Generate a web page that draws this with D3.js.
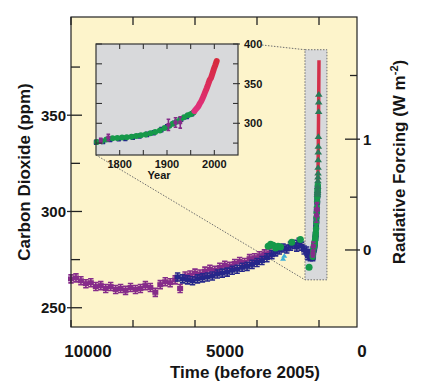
<!DOCTYPE html>
<html>
<head>
<meta charset="utf-8">
<script src="https://cdn.jsdelivr.net/npm/d3@7"></script>
<style>
  body { margin: 0; background: #fff; }
  svg text { font-family: "Liberation Sans", Arial, sans-serif; font-weight: bold; fill: #151515; }
</style>
</head>
<body>
<div id="vis"></div>
<script>
// frame and panel boxes
const FRAME_WIDTH = 423;
const FRAME_HEIGHT = 390;
const PLOT = {left: 71, right: 357, top: 17, bottom: 327};
const INSET = {left: 96, right: 238, top: 44, bottom: 155};

// ---- data: main panel (time before 2005, ppm) ----
const epicaPts = [[10000,265],[9800,265.5],[9600,264],[9400,262.5],[9200,263],[9000,261],
  [8800,261.5],[8600,260],[8400,261],[8200,259.5],[8000,260],[7800,259],[7600,260.5],
  [7400,259.5],[7200,260],[7000,261.5],[6800,260.5],[6600,258],[6400,262],[6200,263.5],
  [6000,263],[5800,264.5],[5600,260],[5400,266.5],[5200,267],[5000,268],[4800,267.5],
  [4600,269],[4400,270],[4200,269.5],[4000,271],[3800,272],[3600,271.5],[3400,273],
  [3200,274],[3000,273.5],[2800,275.5],[2600,276],[2400,277],[2200,278],[2000,278.5]];
const domePts = [[5700,266],[5500,265],[5300,264.5],[5100,264],[4900,265],[4700,265.5],
  [4500,266],[4300,266.5],[4100,267.5],[3900,268],[3700,268.5],[3500,269.5],[3300,270],
  [3100,271],[2900,271.5],[2700,272.5],[2500,273.5],[2300,274.5],[2100,276],[1900,277.5],
  [1750,279],[1600,280],[1450,281],[1300,280.5],[1150,282],[1000,283],[900,281.5],
  [800,284],[700,282],[600,280],[500,279.5],[450,277],[400,278],[350,276.5],[300,277.5]];
const taylorPts = [[2050,282],[1950,283],[1850,282.5],[1750,281],[1650,282],[1550,281.5],
  [1100,284],[750,285.5],[400,271]];
const cyanPts = [[1450,275.5],[1400,277]];
// firn / flask triangles near the present (year AD, ppm)
const flaskPts = [[1940,309],[1945,310],[1950,311],[1955,313],[1960,316],[1963,318],
  [1966,320],[1969,323],[1972,327],[1975,331],[1978,334],[1981,339],[1990,352],
  [1993,357],[1996,361]];

// ---- data: last 250 years (year AD, ppm) ----
const lawGreen = [[1752,276.5],[1762,277.5],[1772,279.5],[1785,281],[1795,281.5],[1805,282],
  [1815,282.5],[1825,283],[1835,284],[1845,285],[1855,286],[1865,287.5],[1875,289],
  [1885,291],[1895,294],[1905,297],[1912,299.5],[1920,302],[1928,305],[1936,307.5],
  [1944,310],[1950,311.5],[1956,313.5]];
const lawBlue = [[1750,276],[1765,277],[1780,279.5],[1798,280.5],[1812,281],[1828,282.5],
  [1842,284],[1858,286],[1872,288],[1888,292],[1900,295.5],[1915,300],[1930,305],
  [1942,308.5],[1953,312]];
const siplePurple = [[1760,278,3],[1776,282,4],[1903,298,7],[1918,301,6],[1928,301,7]];
const maunaLoa = [[1958,315.3],[1960,316.9],[1963,319],[1966,321.1],[1969,324.6],[1972,327.5],
  [1975,331.1],[1978,335.4],[1981,340.1],[1984,344.4],[1987,349.2],[1990,354.4],
  [1993,357.1],[1996,362.6],[1999,368.4],[2002,373.2],[2005,378.5]];

// ---- ticks and labels ----
const timeTicks = [10000, 7500, 5000, 2500, 0];
const timeLabels = [10000, 5000, 0];
const co2Major = [250, 300, 350];
const co2Minor = [275, 325, 375];
const rfMajor = [0, 1];
const rfMinor = [0.5, 1.5];
const yearTicks = [1800, 1850, 1900, 1950, 2000];
const yearLabels = [1800, 1900, 2000];
const insetMajor = [300, 350, 400];
const insetMinor = [275, 325, 375];
const bandTime = [565, -320];
const bandCO2 = [264.5, 384];

// colours
const C_BG = "#fdf4cb", C_GRAY = "#d8d9db";
const C_PURPLE = "#862c8a", C_BLUE = "#26278a", C_GREEN = "#16994a", C_TEAL = "#2a7a58";
const C_CYAN = "#3fb0d8", C_RED = "#d3304a";

// rf axis: forcing relative to 280 ppm
const C0 = 280, RF_K = 5.35;

const X_SCALE = d3.scaleLinear().domain([10000, 0]).range([71, 319]);
const Y_SCALE = d3.scaleLinear().domain([240, 401]).range([PLOT.bottom, PLOT.top]);
// the printed time labels sit offset from the tick marks in the original
const X_LABEL = d3.scaleLinear().domain([10000, 0]).range([88, 362]);
const XI_SCALE = d3.scaleLinear().domain([1750, 2050]).range([INSET.left, INSET.right]);
const YI_SCALE = d3.scaleLinear().domain([260, 400]).range([INSET.bottom, INSET.top]);
const rfY = (rf) => Y_SCALE(C0 * Math.exp(rf / RF_K));
const ago = (yr) => 2005 - yr;

const FRAME = d3.select("#vis").append("svg")
  .attr("width", FRAME_WIDTH).attr("height", FRAME_HEIGHT);

// plot background
FRAME.append("rect")
  .attr("x", PLOT.left).attr("y", PLOT.top)
  .attr("width", PLOT.right - PLOT.left).attr("height", PLOT.bottom - PLOT.top)
  .attr("fill", C_BG);

// shaded zoom band around the last 250 years
FRAME.append("rect")
  .attr("x", X_SCALE(bandTime[0])).attr("y", Y_SCALE(bandCO2[1]))
  .attr("width", X_SCALE(bandTime[1]) - X_SCALE(bandTime[0]))
  .attr("height", Y_SCALE(bandCO2[0]) - Y_SCALE(bandCO2[1]))
  .attr("fill", C_GRAY).attr("stroke", "#6d6d6d").attr("stroke-width", 1)
  .attr("stroke-dasharray", "1.5,1.5");

// dotted connectors between inset and band
FRAME.append("line")
  .attr("x1", INSET.right + 24).attr("y1", INSET.top + 1)
  .attr("x2", X_SCALE(bandTime[0])).attr("y2", Y_SCALE(bandCO2[1]))
  .attr("stroke", "#6d6d6d").attr("stroke-dasharray", "1.5,1.5");
FRAME.append("line")
  .attr("x1", INSET.left).attr("y1", INSET.bottom)
  .attr("x2", X_SCALE(bandTime[0])).attr("y2", Y_SCALE(bandCO2[0]))
  .attr("stroke", "#6d6d6d").attr("stroke-dasharray", "1.5,1.5");

// squares with error bars
function drawSquares(g, pts, xf, yf, color, w, h, err) {
  const grp = g.append("g").attr("fill", color).attr("stroke", color);
  grp.selectAll("path.err").data(pts).enter().append("path")
    .attr("class", "err").attr("stroke-width", 1.6).attr("fill", "none")
    .attr("d", (d) => {
      const x = xf(d), y = yf(d), e = d[2] !== undefined ? d[2] * err : err, c = w * 0.45;
      return "M" + x + "," + (y - e) + "V" + (y + e) +
        "M" + (x - c) + "," + (y - e) + "H" + (x + c) +
        "M" + (x - c) + "," + (y + e) + "H" + (x + c);
    });
  grp.selectAll("rect").data(pts).enter().append("rect")
    .attr("x", (d) => xf(d) - w / 2).attr("y", (d) => yf(d) - h / 2)
    .attr("width", w).attr("height", h).attr("stroke", "none");
}

function drawDots(g, pts, xf, yf, color, r) {
  g.append("g").selectAll("circle").data(pts).enter().append("circle")
    .attr("cx", xf).attr("cy", yf).attr("r", r).attr("fill", color);
}

function drawTriangles(g, pts, xf, yf, color, s) {
  g.append("g").selectAll("path").data(pts).enter().append("path")
    .attr("d", (d) => {
      const x = xf(d), y = yf(d);
      return "M" + (x - s) + "," + (y + s * 0.7) + "L" + x + "," + (y - s * 0.8) +
        "L" + (x + s) + "," + (y + s * 0.7) + "Z";
    })
    .attr("fill", color);
}

// ---- main panel marks ----
const MAIN = FRAME.append("g");
const mx = (d) => X_SCALE(d[0]), my = (d) => Y_SCALE(d[1]);
const mxYr = (d) => X_SCALE(ago(d[0]));

drawSquares(MAIN, epicaPts, mx, my, C_PURPLE, 6, 5, 4);
drawSquares(MAIN, domePts, mx, my, C_BLUE, 6, 5, 4);
drawDots(MAIN, taylorPts, mx, my, C_GREEN, 3.5);
drawTriangles(MAIN, cyanPts, mx, my, C_CYAN, 3);
drawSquares(MAIN, lawBlue, mxYr, my, C_BLUE, 6, 5, 3);
drawDots(MAIN, lawGreen, mxYr, my, C_GREEN, 3.2);
drawSquares(MAIN, siplePurple, mxYr, my, C_PURPLE, 5, 4, 1);

MAIN.append("path")
  .datum(maunaLoa)
  .attr("d", d3.line().x(mxYr).y(my))
  .attr("fill", "none").attr("stroke", C_RED).attr("stroke-width", 3.5);

drawTriangles(MAIN, flaskPts, mxYr, my, C_TEAL, 3.8);

// plot frame
FRAME.append("rect")
  .attr("x", PLOT.left).attr("y", PLOT.top)
  .attr("width", PLOT.right - PLOT.left).attr("height", PLOT.bottom - PLOT.top)
  .attr("fill", "none").attr("stroke", "#222").attr("stroke-width", 1.2);

// ---- main axes ----
const AX = FRAME.append("g").attr("stroke", "#222").attr("stroke-width", 1.3);

// time ticks, top and bottom, inward
AX.selectAll("line.tb").data(timeTicks).enter().append("line")
  .attr("x1", (d) => X_SCALE(d)).attr("x2", (d) => X_SCALE(d))
  .attr("y1", PLOT.bottom).attr("y2", PLOT.bottom - 7);
AX.selectAll("line.tt").data(timeTicks).enter().append("line")
  .attr("x1", (d) => X_SCALE(d)).attr("x2", (d) => X_SCALE(d))
  .attr("y1", PLOT.top).attr("y2", PLOT.top + 8);

// CO2 ticks on the left
AX.selectAll("line.lM").data(co2Major).enter().append("line")
  .attr("x1", PLOT.left - 4).attr("x2", PLOT.left + 11)
  .attr("y1", (d) => Y_SCALE(d)).attr("y2", (d) => Y_SCALE(d));
AX.selectAll("line.lm").data(co2Minor).enter().append("line")
  .attr("x1", PLOT.left).attr("x2", PLOT.left + 9)
  .attr("y1", (d) => Y_SCALE(d)).attr("y2", (d) => Y_SCALE(d));

// forcing ticks on the right
AX.selectAll("line.rM").data(rfMajor).enter().append("line")
  .attr("x1", PLOT.right - 12).attr("x2", PLOT.right + 3)
  .attr("y1", rfY).attr("y2", rfY);
AX.selectAll("line.rm").data(rfMinor).enter().append("line")
  .attr("x1", PLOT.right - 7).attr("x2", PLOT.right)
  .attr("y1", rfY).attr("y2", rfY);

FRAME.selectAll("text.co2").data(co2Major).enter().append("text")
  .attr("x", 66).attr("y", (d) => Y_SCALE(d)).attr("dy", "0.36em")
  .attr("text-anchor", "end").attr("font-size", "15px").text((d) => d);

FRAME.selectAll("text.rf").data(rfMajor).enter().append("text")
  .attr("x", 363).attr("y", rfY).attr("dy", "0.36em")
  .attr("font-size", "15px").text((d) => d);

FRAME.selectAll("text.time").data(timeLabels).enter().append("text")
  .attr("x", (d) => X_LABEL(d)).attr("y", 357)
  .attr("text-anchor", "middle").attr("font-size", "17px").text((d) => d);

FRAME.append("text")
  .attr("x", 245).attr("y", 378).attr("text-anchor", "middle")
  .attr("font-size", "17px").text("Time (before 2005)");

FRAME.append("text")
  .attr("transform", "translate(30,172) rotate(-90)")
  .attr("text-anchor", "middle").attr("font-size", "17px")
  .text("Carbon Dioxide (ppm)");

const RF_TITLE = FRAME.append("text")
  .attr("transform", "translate(405,162) rotate(-90)")
  .attr("text-anchor", "middle").attr("font-size", "17px");
RF_TITLE.append("tspan").text("Radiative Forcing (W m");
RF_TITLE.append("tspan").attr("dy", -7).attr("font-size", "11px").text("-2");
RF_TITLE.append("tspan").attr("dy", 7).text(")");

// ---- inset ----
const INS = FRAME.append("g");
INS.append("rect")
  .attr("x", INSET.left).attr("y", INSET.top)
  .attr("width", INSET.right - INSET.left).attr("height", INSET.bottom - INSET.top)
  .attr("fill", C_GRAY);

const ix = (d) => XI_SCALE(d[0]), iy = (d) => YI_SCALE(d[1]);

// gradient for the instrumental record
const GRAD = FRAME.append("defs").append("linearGradient")
  .attr("id", "redgrad").attr("gradientUnits", "userSpaceOnUse")
  .attr("x1", 0).attr("x2", 0)
  .attr("y1", YI_SCALE(maunaLoa[0][1])).attr("y2", YI_SCALE(maunaLoa[maunaLoa.length - 1][1]));
GRAD.append("stop").attr("offset", "0%").attr("stop-color", "#e0307e");
GRAD.append("stop").attr("offset", "100%").attr("stop-color", "#d62a3c");

drawSquares(INS, lawBlue, ix, iy, C_BLUE, 4.5, 4, 2);
drawDots(INS, lawGreen, ix, iy, C_GREEN, 3);
drawSquares(INS, siplePurple, ix, iy, C_PURPLE, 4, 3.5, 0.8);

INS.append("path")
  .datum(maunaLoa)
  .attr("d", d3.line().x(ix).y(iy))
  .attr("fill", "none").attr("stroke", "url(#redgrad)").attr("stroke-width", 6)
  .attr("stroke-linecap", "round");

INS.append("rect")
  .attr("x", INSET.left).attr("y", INSET.top)
  .attr("width", INSET.right - INSET.left).attr("height", INSET.bottom - INSET.top)
  .attr("fill", "none").attr("stroke", "#333").attr("stroke-width", 1.2);

const IAX = INS.append("g").attr("stroke", "#333").attr("stroke-width", 1.1);
IAX.selectAll("line.t").data(yearTicks).enter().append("line")
  .attr("x1", (d) => XI_SCALE(d)).attr("x2", (d) => XI_SCALE(d))
  .attr("y1", INSET.top).attr("y2", INSET.top + 5);
IAX.selectAll("line.b").data(yearTicks).enter().append("line")
  .attr("x1", (d) => XI_SCALE(d)).attr("x2", (d) => XI_SCALE(d))
  .attr("y1", INSET.bottom).attr("y2", INSET.bottom - 5);
IAX.selectAll("line.l").data(insetMajor.concat(insetMinor)).enter().append("line")
  .attr("x1", INSET.left).attr("x2", INSET.left + 6)
  .attr("y1", (d) => YI_SCALE(d)).attr("y2", (d) => YI_SCALE(d));
IAX.selectAll("line.rM").data(insetMajor).enter().append("line")
  .attr("x1", INSET.right - 5).attr("x2", INSET.right + 2)
  .attr("y1", (d) => YI_SCALE(d)).attr("y2", (d) => YI_SCALE(d));
IAX.selectAll("line.rm").data(insetMinor).enter().append("line")
  .attr("x1", INSET.right - 5).attr("x2", INSET.right)
  .attr("y1", (d) => YI_SCALE(d)).attr("y2", (d) => YI_SCALE(d));

INS.selectAll("text.yr").data(yearLabels).enter().append("text")
  .attr("x", (d) => XI_SCALE(d)).attr("y", 168)
  .attr("text-anchor", "middle").attr("font-size", "11px").text((d) => d);
INS.selectAll("text.ic").data(insetMajor).enter().append("text")
  .attr("x", INSET.right + 6).attr("y", (d) => YI_SCALE(d)).attr("dy", "0.36em")
  .attr("font-size", "11px").text((d) => d);
INS.append("text")
  .attr("x", 159).attr("y", 179).attr("text-anchor", "middle")
  .attr("font-size", "11px").text("Year");
</script>
</body>
</html>
